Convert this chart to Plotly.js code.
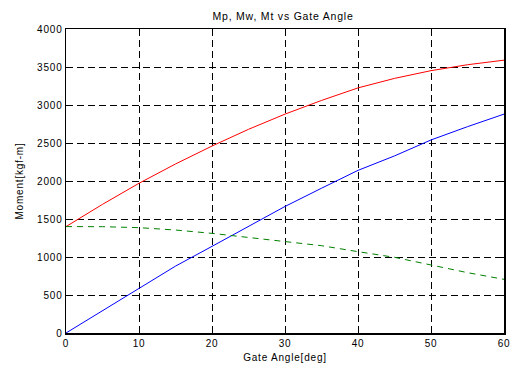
<!DOCTYPE html>
<html>
<head>
<meta charset="utf-8">
<script src="https://cdn.plot.ly/plotly-3.0.1.min.js"></script>
<style>
  html, body { margin: 0; padding: 0; background: #fff; }
  #chart { width: 510px; height: 365px; }
  #chart text { letter-spacing: 0.8px; }
</style>
</head>
<body>
<div id="chart"></div>
<script>
// Gate angle [deg]
const angle = [0, 5, 10, 15, 20, 25, 30, 35, 40, 45, 50, 55, 60];
// Mp (red)
const mp = [1400, 1693, 1970, 2224, 2460, 2680, 2880, 3060, 3225, 3350, 3452, 3530, 3590];
// Mw (blue)
const mw = [0, 290, 588, 880, 1140, 1400, 1665, 1905, 2140, 2330, 2540, 2715, 2880];
// Mt (green dashed)
const mt = [1400, 1399, 1386, 1355, 1311, 1259, 1210, 1149, 1070, 996, 895, 794, 706];

const xTicks = [0, 10, 20, 30, 40, 50, 60];
const yTicks = [0, 500, 1000, 1500, 2000, 2500, 3000, 3500, 4000];

const traces = [
  { x: angle, y: mp, mode: 'lines', name: 'Mp', line: { color: '#ff0000', width: 1 } },
  { x: angle, y: mw, mode: 'lines', name: 'Mw', line: { color: '#0000ff', width: 1 } },
  { x: angle, y: mt, mode: 'lines', name: 'Mt', line: { color: '#008000', width: 1, dash: '6px,5px' } }
];

const font = { family: '"Liberation Sans", Arial, sans-serif', size: 10, color: '#000' };

const axisCommon = {
  showgrid: true, gridcolor: '#000', gridwidth: 1, griddash: '7px,4px',
  showline: true, linecolor: '#000', linewidth: 1.5, mirror: 'ticks',
  ticks: 'inside', ticklen: 5, tickcolor: '#000', tickwidth: 1,
  zeroline: false, automargin: false, tickfont: font
};

const layout = {
  width: 510, height: 365,
  margin: { l: 66, r: 6, t: 29, b: 32 },
  paper_bgcolor: '#fff', plot_bgcolor: '#fff',
  showlegend: false,
  font: font,
  title: { text: 'Mp, Mw, Mt vs Gate Angle', font: Object.assign({}, font, { size: 10.5 }), x: 0.555, xanchor: 'center', y: 0.955, yanchor: 'middle' },
  xaxis: Object.assign({}, axisCommon, {
    range: [0, 60], tickvals: xTicks, ticktext: xTicks.map(String),
    title: { text: 'Gate Angle[deg]', font: font, standoff: 6 }
  }),
  yaxis: Object.assign({}, axisCommon, {
    range: [0, 4000], tickvals: yTicks, ticktext: yTicks.map(String),
    title: { text: 'Moment[kgf-m]', font: font, standoff: 15 }
  })
};

Plotly.newPlot('chart', traces, layout, { displayModeBar: false, staticPlot: true });
</script>
</body>
</html>
